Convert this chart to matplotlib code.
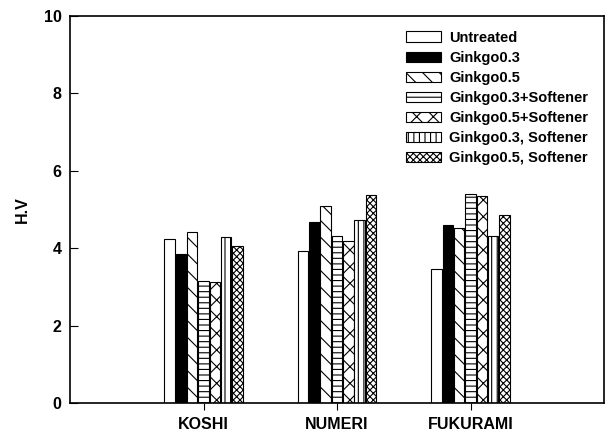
import matplotlib
matplotlib.use('Agg')
import matplotlib.pyplot as plt
import numpy as np

# Données
categories = ['KOSHI', 'NUMERI', 'FUKURAMI']
series = ['Untreated', 'Ginkgo0.3', 'Ginkgo0.5', 'Ginkgo0.3+Softener',
          'Ginkgo0.5+Softener', 'Ginkgo0.3, Softener', 'Ginkgo0.5, Softener']
untreated = [4.24, 3.93, 3.47]
ginkgo03 = [3.86, 4.68, 4.59]
ginkgo05 = [4.41, 5.10, 4.53]
ginkgo03_plus = [3.14, 4.32, 5.40]
ginkgo05_plus = [3.13, 4.18, 5.36]
ginkgo03_comma = [4.29, 4.72, 4.32]
ginkgo05_comma = [4.05, 5.38, 4.85]
valeurs = [untreated, ginkgo03, ginkgo05, ginkgo03_plus,
           ginkgo05_plus, ginkgo03_comma, ginkgo05_comma]

remplissages = ['white', 'black', 'white', 'white', 'white', 'white', 'white']
hachures = [None, None, '\\\\', '---', 'xx', '|||', 'xxxxx']

plt.rcParams['font.family'] = ['Liberation Sans', 'DejaVu Sans']
plt.rcParams['font.weight'] = 'bold'
plt.rcParams['hatch.linewidth'] = 0.8

fig = plt.figure(figsize=(6.08, 4.34), dpi=100)
ax = fig.add_axes([70 / 608, 31 / 434, 534 / 608, 387 / 434])

x = np.arange(1, len(categories) + 1)
pas = 0.085
largeur = 0.078
for i, (nom, v) in enumerate(zip(series, valeurs)):
    ax.bar(x + (i - 3) * pas, v, width=largeur, color=remplissages[i],
           edgecolor='black', linewidth=0.8, hatch=hachures[i], label=nom)

ax.set_xlim(0, 4)
ax.set_ylim(0, 10)
ax.set_xticks(x)
ax.set_xticklabels(categories, fontsize=11.5, fontweight='bold')
ax.set_yticks([0, 2, 4, 6, 8, 10])
ax.tick_params(axis='y', direction='in', length=6, labelsize=11.5, pad=6)
ax.tick_params(axis='x', direction='out', length=5, pad=5)
ax.set_ylabel('H.V', fontsize=11.5, fontweight='bold', labelpad=10)
for s in ax.spines.values():
    s.set_linewidth(1.2)

ax.legend(loc='upper left', bbox_to_anchor=(0.629, 0.962), frameon=False,
          handlelength=2.4, handleheight=0.7,
          handletextpad=0.55, labelspacing=0.42, borderpad=0,
          borderaxespad=0, prop={'weight': 'bold', 'size': 10.5})

fig.savefig('out.png', dpi=100)
